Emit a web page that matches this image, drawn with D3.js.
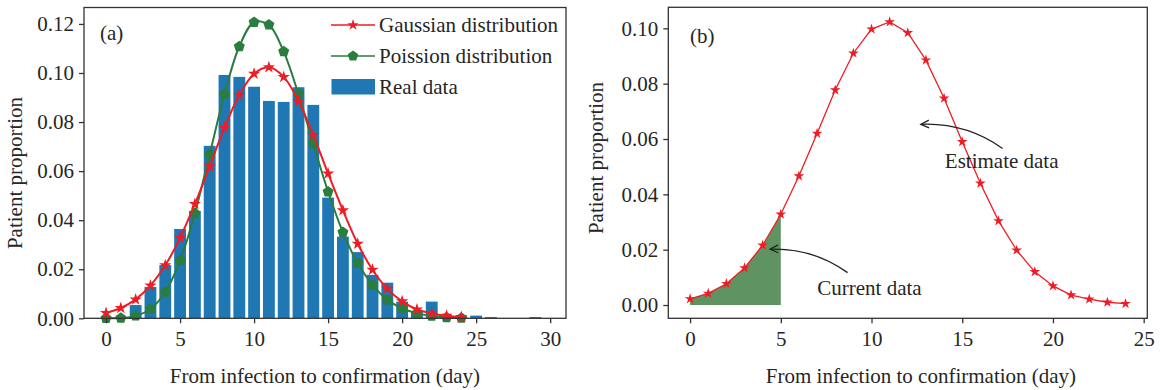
<!DOCTYPE html>
<html>
<head>
<meta charset="utf-8">
<script src="https://cdn.jsdelivr.net/npm/d3@7"></script>
<style>
  body { margin: 0; background: #fff; }
  svg text { font-family: "Liberation Serif", "Times New Roman", serif; fill: #262626; }
</style>
</head>
<body>
<svg id="chart" width="1161" height="390"></svg>
<script>
// ---------- DATA ----------
const fitDays = [0,1,2,3,4,5,6,7,8,9,10,11,12,13,14,15,16,17,18,19,20,21,22,23,24];
const gaussian = [0.0022,0.0042,0.0077,0.0134,0.0216,0.0328,0.0466,0.0620,0.0777,0.0910,0.0997,0.1023,0.0984,0.0885,0.0747,0.0590,0.0440,0.0304,0.0198,0.0120,0.0069,0.0036,0.0021,0.0010,0.0005];
const poisson = [0.0000,0.0001,0.0010,0.0038,0.0107,0.0235,0.0428,0.0669,0.0913,0.1108,0.1207,0.1196,0.1087,0.0913,0.0711,0.0516,0.0351,0.0224,0.0136,0.0075,0.0041,0.0020,0.0009,0.0003,0.0001];
const realDays = [0,1,2,3,4,5,6,7,8,9,10,11,12,13,14,15,16,17,18,19,20,21,22,23,24,25,26,27,28,29];
const realData = [0,0,0.0054,0.0128,0.0217,0.0364,0.0437,0.0703,0.0992,0.0984,0.0944,0.0886,0.0882,0.0942,0.0870,0.0492,0.0333,0.0270,0.0177,0.0145,0.0068,0.0027,0.0068,0.0010,0.0007,0.0011,0.0005,0,0,0.0005];
const currentDays = [0,1,2,3,4,5];
const xTicksA = [0,5,10,15,20,25,30];
const yTicksA = [0.00,0.02,0.04,0.06,0.08,0.10,0.12];
const xTicksB = [0,5,10,15,20,25];
const yTicksB = [0.00,0.02,0.04,0.06,0.08,0.10];
const legendLabels = ["Gaussian distribution","Poission distribution","Real data"];
const xLabel = "From infection to confirmation (day)";
const yLabel = "Patient proportion";
const annotations = [
  {text: "Estimate data", tx: 14.04, ty: 0.0495, from: [17.22, 0.0566], to: [12.72, 0.0653]},
  {text: "Current data",  tx: 7.01,  ty: 0.0036, from: [8.68, 0.0117],  to: [4.41, 0.0202]}
];

// ---------- STYLE ----------
const RED = "#ee1d25", GREEN = "#2a7d3e", BLUE = "#1f77b4", FILL = "#5f9462", AXIS = "#333";
const FS = 21;

const svg = d3.select("#chart");

function starPath(R) {
  const r = R * 0.382; const pts = [];
  for (let i = 0; i < 10; i++) {
    const a = -Math.PI / 2 + i * Math.PI / 5;
    const rr = i % 2 === 0 ? R : r;
    pts.push([rr * Math.cos(a), rr * Math.sin(a)]);
  }
  return "M" + pts.map(p => p.join(",")).join("L") + "Z";
}
function pentPath(R) {
  const pts = [];
  for (let i = 0; i < 5; i++) {
    const a = -Math.PI / 2 + i * 2 * Math.PI / 5;
    pts.push([R * Math.cos(a), R * Math.sin(a)]);
  }
  return "M" + pts.map(p => p.join(",")).join("L") + "Z";
}

function drawFrame(g, x, y, xt, yt, box) {
  const [l, t, r, b] = box;
  const xa = g.append("g").attr("transform", `translate(0,${b})`)
    .call(d3.axisBottom(x).tickValues(xt).tickFormat(d3.format("d")).tickSize(5).tickPadding(6));
  const ya = g.append("g").attr("transform", `translate(${l},0)`)
    .call(d3.axisLeft(y).tickValues(yt).tickFormat(d3.format(".2f")).tickSize(5).tickPadding(5));
  [xa, ya].forEach(a => {
    a.select(".domain").remove();
    a.selectAll(".tick line").attr("stroke", AXIS).attr("stroke-width", 1.3);
    a.selectAll(".tick text").attr("font-size", FS).attr("fill", "#262626")
      .style("font-family", '"Liberation Serif", serif');
  });
  xa.selectAll(".tick text").attr("dy", "0.78em");
  g.append("rect").attr("x", l).attr("y", t).attr("width", r - l).attr("height", b - t)
    .attr("fill", "none").attr("stroke", AXIS).attr("stroke-width", 1.3);
}

// ---------- PANEL (a) ----------
const boxA = [84, 7.5, 566, 318.3];
const xA = d3.scaleLinear().domain([-1.49, 31.07]).range([boxA[0], boxA[2]]);
const yA = d3.scaleLinear().domain([0, 0.1267]).range([boxA[3], boxA[1]]);
const gA = svg.append("g");
const bw = xA(0.4) - xA(-0.4);
gA.append("g").selectAll("rect").data(realDays).join("rect")
  .attr("x", (d) => xA(d) - bw / 2).attr("width", bw)
  .attr("y", (d, i) => yA(realData[i])).attr("height", (d, i) => yA(0) - yA(realData[i]))
  .attr("fill", BLUE);

const lineA = (vals) => d3.line().x((d, i) => xA(fitDays[i])).y((d, i) => yA(vals[i])).curve(d3.curveCatmullRom)(vals);
gA.append("path").attr("d", lineA(poisson)).attr("fill", "none").attr("stroke", GREEN).attr("stroke-width", 2);
gA.append("g").selectAll("path").data(poisson).join("path")
  .attr("d", pentPath(5.8)).attr("transform", (d, i) => `translate(${xA(fitDays[i])},${yA(d)})`)
  .attr("fill", GREEN);
gA.append("path").attr("d", lineA(gaussian)).attr("fill", "none").attr("stroke", RED).attr("stroke-width", 2);
gA.append("g").selectAll("path").data(gaussian).join("path")
  .attr("d", starPath(6.5)).attr("transform", (d, i) => `translate(${xA(fitDays[i])},${yA(d)})`)
  .attr("fill", RED);

drawFrame(gA, xA, yA, xTicksA, yTicksA, boxA);

gA.append("text").attr("x", 100).attr("y", 40).attr("font-size", FS).text("(a)");

// legend
const leg = gA.append("g");
const legY = [25, 56, 87];
leg.append("line").attr("x1", 331).attr("x2", 375).attr("y1", legY[0]).attr("y2", legY[0]).attr("stroke", RED).attr("stroke-width", 1.6);
leg.append("path").attr("d", starPath(6)).attr("transform", `translate(353,${legY[0]})`).attr("fill", RED);
leg.append("line").attr("x1", 331).attr("x2", 375).attr("y1", legY[1]).attr("y2", legY[1]).attr("stroke", GREEN).attr("stroke-width", 1.6);
leg.append("path").attr("d", pentPath(5.5)).attr("transform", `translate(353,${legY[1]})`).attr("fill", GREEN);
leg.append("rect").attr("x", 331.5).attr("y", legY[2] - 8).attr("width", 43.5).attr("height", 15.5).attr("fill", BLUE);
leg.selectAll("text").data(legendLabels).join("text")
  .attr("x", 379).attr("y", (d, i) => legY[i] + 7).attr("font-size", FS).text(d => d);

// axis labels
gA.append("text").attr("x", 325).attr("y", 383).attr("text-anchor", "middle").attr("font-size", FS).text(xLabel);
gA.append("text").attr("transform", "translate(22,173) rotate(-90)").attr("text-anchor", "middle").attr("font-size", FS).text(yLabel);

// ---------- PANEL (b) ----------
const boxB = [668.3, 7.3, 1147.3, 318.3];
const xB = d3.scaleLinear().domain([-1.2, 25.2]).range([boxB[0], boxB[2]]);
const yB = d3.scaleLinear().domain([-0.0048, 0.1076]).range([boxB[3], boxB[1]]);
const gB = svg.append("g");

gB.append("path")
  .attr("d", d3.area().x(d => xB(d)).y0(yB(0)).y1((d, i) => yB(gaussian[i]))(currentDays))
  .attr("fill", FILL);
gB.append("path")
  .attr("d", d3.line().x((d, i) => xB(fitDays[i])).y(d => yB(d))(gaussian))
  .attr("fill", "none").attr("stroke", RED).attr("stroke-width", 1.3);
gB.append("g").selectAll("path").data(gaussian).join("path")
  .attr("d", starPath(5.6)).attr("transform", (d, i) => `translate(${xB(fitDays[i])},${yB(d)})`)
  .attr("fill", RED);

drawFrame(gB, xB, yB, xTicksB, yTicksB, boxB);
gB.append("text").attr("x", 690).attr("y", 43).attr("font-size", FS).text("(b)");

// annotations
annotations.forEach(a => {
  const p0 = [xB(a.from[0]), yB(a.from[1])], p2 = [xB(a.to[0]), yB(a.to[1])];
  const dx = p2[0] - p0[0], dy = p2[1] - p0[1];
  const mid = [(p0[0] + p2[0]) / 2, (p0[1] + p2[1]) / 2];
  const rad = 0.17;
  const c = [mid[0] - rad * dy, mid[1] + rad * dx];
  gB.append("path").attr("d", `M${p0[0]},${p0[1]}Q${c[0]},${c[1]} ${p2[0]},${p2[1]}`)
    .attr("fill", "none").attr("stroke", "#222").attr("stroke-width", 1.3);
  const ang = Math.atan2(p2[1] - c[1], p2[0] - c[0]);
  const L = 9, w = 0.45;
  const h1 = [p2[0] - L * Math.cos(ang - w), p2[1] - L * Math.sin(ang - w)];
  const h2 = [p2[0] - L * Math.cos(ang + w), p2[1] - L * Math.sin(ang + w)];
  gB.append("path").attr("d", `M${h1[0]},${h1[1]}L${p2[0]},${p2[1]}L${h2[0]},${h2[1]}`)
    .attr("fill", "none").attr("stroke", "#222").attr("stroke-width", 1.3);
  gB.append("text").attr("x", xB(a.tx)).attr("y", yB(a.ty)).attr("font-size", FS).text(a.text);
});

gB.append("text").attr("x", 921).attr("y", 383).attr("text-anchor", "middle").attr("font-size", FS).text(xLabel);
gB.append("text").attr("transform", "translate(603,158) rotate(-90)").attr("text-anchor", "middle").attr("font-size", FS).text(yLabel);
</script>
</body>
</html>
